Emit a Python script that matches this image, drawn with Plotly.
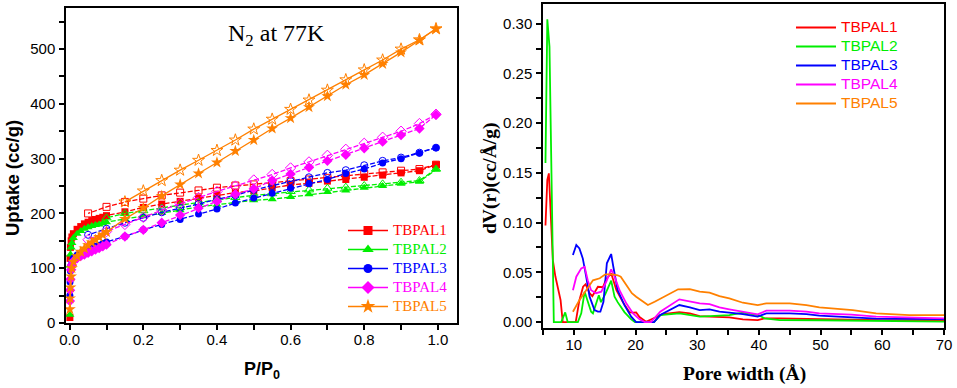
import plotly.graph_objects as go

W, H = 957, 388

# ---------------- Left panel: N2 isotherms at 77 K ----------------
P_ads = [0.0005, 0.001, 0.002, 0.004, 0.006, 0.01, 0.02, 0.03, 0.04, 0.05, 0.06, 0.07,
         0.08, 0.09, 0.10, 0.15, 0.20, 0.25, 0.30, 0.35, 0.40, 0.45, 0.50, 0.55, 0.60,
         0.65, 0.70, 0.75, 0.80, 0.85, 0.90, 0.95, 0.995]
P_des = [0.995, 0.95, 0.90, 0.85, 0.80, 0.75, 0.70, 0.65, 0.60, 0.55, 0.50, 0.45, 0.40,
         0.35, 0.30, 0.25, 0.20, 0.15, 0.10, 0.05]

names = ["TBPAL1", "TBPAL2", "TBPAL3", "TBPAL4", "TBPAL5"]
colors = ["#FF0000", "#00EE00", "#0000FF", "#FF00FF", "#FF8000"]

ads_1 = [10, 118, 138, 150, 157, 163, 171, 176, 181, 184, 187, 189, 191, 193, 196, 203, 211,
         217, 222, 228, 233, 238, 241, 247, 252, 255, 259, 262, 266, 270, 274, 278, 289]
des_1 = [289, 281, 278, 275, 272, 269, 265, 262, 259, 256, 253, 251, 247, 242, 238, 233,
         227, 221, 212, 200]
ads_2 = [15, 105, 125, 138, 146, 155, 163, 168, 172, 175, 177, 179, 180, 182, 184, 190, 195,
         201, 206, 212, 216, 221, 224, 226, 230, 235, 239, 242, 247, 250, 254, 258, 280]
des_2 = [281, 260, 257, 254, 251, 248, 246, 243, 240, 236, 233, 229, 225, 220, 215, 210,
         205, 200, 192, None]
ads_3 = [50, 75, 95, 105, 112, 118, 124, 128, 131, 134, 137, 140, 142, 145, 148, 158, 170,
         180, 189, 199, 208, 219, 228, 237, 246, 254, 262, 273, 281, 292, 300, 310, 320]
des_3 = [320, 311, 302, 296, 288, 279, 274, 266, 259, 250, 243, 233, 226, 217, 210, 202,
         192, 183, 172, 161]
ads_4 = [40, 60, 80, 97, 106, 113, 118, 122, 125, 128, 131, 134, 137, 140, 143, 158, 170,
         183, 197, 210, 222, 235, 245, 260, 272, 284, 296, 307, 319, 331, 343, 355, 380]
des_4 = [381, 364, 350, 339, 328, 317, 306, 294, 283, 271, 261, 250, 240, 229, 218, 206,
         193, 180, 167, 152]
ads_5 = [25, 45, 65, 85, 100, 112, 122, 130, 136, 142, 147, 152, 157, 161, 166, 190, 210,
         232, 253, 273, 293, 314, 334, 355, 374, 394, 414, 435, 453, 473, 494, 516, 537]
des_5 = [537, 517, 500, 480, 462, 444, 425, 407, 390, 372, 354, 334, 315, 297, 279, 260,
         241, 221, None, None]

ads = [ads_1, ads_2, ads_3, ads_4, ads_5]
des = [des_1, des_2, des_3, des_4, des_5]
symbols = ["square", "triangle-up", "circle", "diamond", "star"]
msizes = [7, 8, 7, 8, 9]
dashes = ["5px,2px", "5px,2px", "5px,2px", "5px,2px", "solid"]

# tick positions (major labelled, minor unlabelled)
L_xticks = [0, 0.1, 0.2, 0.3, 0.4, 0.5, 0.6, 0.7, 0.8, 0.9, 1.0]
L_xlabels = ["0.0", "", "0.2", "", "0.4", "", "0.6", "", "0.8", "", "1.0"]
L_yticks = [0, 50, 100, 150, 200, 250, 300, 350, 400, 450, 500, 550]
L_ylabels = ["0", "", "100", "", "200", "", "300", "", "400", "", "500", ""]
R_xticks = [5, 10, 15, 20, 25, 30, 35, 40, 45, 50, 55, 60, 65, 70]
R_xlabels = ["", "10", "", "20", "", "30", "", "40", "", "50", "", "60", "", "70"]
R_yticks = [0, 0.025, 0.05, 0.075, 0.10, 0.125, 0.15, 0.175, 0.20, 0.225, 0.25, 0.275, 0.30]
R_ylabels = ["0.00", "", "0.05", "", "0.10", "", "0.15", "", "0.20", "", "0.25", "", "0.30"]

# ---------------- Right panel: pore size distribution ----------------
w_1 = [5.4, 5.7, 5.95, 6.6, 7.0, 7.6, 7.85, 8.2, 10.3, 10.9, 11.5, 11.9, 12.55, 13.0, 13.9,
       14.7, 15.25, 16.05, 16.9, 17.95, 19.0, 19.6, 20.1, 20.65, 21.7, 24.4, 27.1, 28.8,
       30.4, 32.0, 35.2, 37.4, 39.8, 40.9, 43.4, 50.0, 60.0, 70.0]
v_1 = [0.097, 0.143, 0.1495, 0.062, 0.046, 0.029, 0.022, 0.0, 0.0, 0.022, 0.0355, 0.038,
       0.029, 0.026, 0.0355, 0.035, 0.043, 0.049, 0.032, 0.020, 0.010, 0.0094, 0.0097,
       0.005, 0.0003, 0.008, 0.0100, 0.0087, 0.006, 0.0054, 0.0047, 0.0027, 0.002, 0.0037,
       0.0037, 0.0028, 0.002, 0.002]
w_2 = [5.4, 5.7, 6.05, 6.75, 7.95, 8.6, 9.0, 10.65, 11.2, 11.75, 12.8, 13.1, 14.05, 14.4,
       15.1, 16.05, 16.6, 17.1, 18.2, 19.3, 19.9, 23.0, 24.0, 27.1, 30.4, 35.2, 37.4, 39.9,
       40.9, 43.4, 50.0, 60.0, 70.0]
v_2 = [0.160, 0.3045, 0.277, 0.0, 0.0, 0.0097, 0.0, 0.0, 0.0087, 0.0305, 0.0104, 0.0087,
       0.027, 0.020, 0.028, 0.0416, 0.0255, 0.020, 0.010, 0.0027, 0.0, 0.0, 0.007, 0.0087,
       0.0054, 0.007, 0.0094, 0.007, 0.0037, 0.002, 0.0018, 0.001, 0.0005]
w_3 = [9.85, 10.4, 10.9, 11.45, 12.0, 12.55, 13.35, 13.9, 14.3, 14.8, 15.35, 16.05, 16.4,
       17.1, 18.2, 19.3, 20.1, 23.0, 24.0, 27.1, 28.8, 30.4, 32.0, 33.6, 35.2, 37.4, 39.8,
       41.2, 45.0, 47.7, 49.8, 59.0, 70.0]
v_3 = [0.0674, 0.0775, 0.074, 0.064, 0.0456, 0.0255, 0.012, 0.0104, 0.0104, 0.0204, 0.059,
       0.0684, 0.0556, 0.032, 0.017, 0.0054, 0.0, 0.0, 0.007, 0.0171, 0.0148, 0.012, 0.0128,
       0.0104, 0.0094, 0.008, 0.0054, 0.0087, 0.0087, 0.008, 0.0064, 0.0035, 0.003]
w_4 = [9.85, 10.4, 11.2, 11.75, 12.25, 12.8, 13.6, 14.45, 15.25, 16.05, 16.6, 17.4, 18.5,
       19.6, 20.65, 21.5, 22.5, 24.0, 27.1, 28.8, 30.4, 32.0, 33.6, 35.2, 37.4, 39.8, 41.2,
       45.0, 47.7, 49.8, 55.0, 59.0, 70.0]
v_4 = [0.032, 0.0456, 0.054, 0.0556, 0.042, 0.032, 0.029, 0.0305, 0.0405, 0.053, 0.0456,
       0.032, 0.0188, 0.0087, 0.0027, 0.0, 0.0, 0.0104, 0.0228, 0.0204, 0.0188, 0.0181,
       0.0148, 0.0128, 0.0104, 0.0077, 0.0114, 0.0114, 0.0104, 0.0087, 0.0075, 0.0054,
       0.0037]
w_5 = [9.85, 10.9, 12.0, 13.1, 14.2, 15.1, 16.3, 17.1, 17.6, 18.8, 19.4, 20.1, 21.2, 22.0,
       23.1, 25.0, 26.9, 28.8, 30.4, 32.0, 33.6, 35.2, 37.4, 39.8, 41.2, 45.0, 47.7, 49.8,
       55.2, 59.0, 64.4, 70.0]
v_5 = [0.0104, 0.022, 0.032, 0.042, 0.044, 0.048, 0.048, 0.047, 0.0456, 0.034, 0.029, 0.0255,
       0.0204, 0.0171, 0.0204, 0.027, 0.0329, 0.033, 0.0305, 0.0295, 0.026, 0.0238, 0.0194,
       0.0171, 0.0188, 0.0188, 0.0171, 0.0148, 0.012, 0.0087, 0.007, 0.007]

psd_w = [w_1, w_2, w_3, w_4, w_5]
psd_v = [v_1, v_2, v_3, v_4, v_5]

# ---------------- geometry (pixel boxes of the two plot frames) ----------------
L_box = (66, 457, 8, 323)     # x0, x1, y0(top), y1(bottom)
R_box = (543, 944, 4, 328)

def xd(b):
    return [b[0] / W, b[1] / W]

def yd(b):
    return [1 - b[3] / H, 1 - b[2] / H]

SANS = "Liberation Sans, Arial, sans-serif"
SERIF = "Liberation Serif, Times New Roman, serif"

def legend_label(name, color, size, family):
    return (f"<span style='font-size:{size}px;color:{color};font-family:{family}'>"
            f"{name}</span>")

fig = go.Figure()

for i in range(5):
    fig.add_trace(go.Scatter(
        x=P_ads, y=ads[i], mode="lines+markers", showlegend=False,
        line=dict(color=colors[i], width=1.3, dash=dashes[i]),
        marker=dict(symbol=symbols[i], size=msizes[i], color=colors[i],
                    line=dict(width=0)),
        xaxis="x", yaxis="y"))
    fig.add_trace(go.Scatter(
        x=P_des, y=des[i], mode="lines+markers", showlegend=False,
        line=dict(color=colors[i], width=1.3, dash=dashes[i]),
        marker=dict(symbol=symbols[i] + "-open", size=msizes[i], color=colors[i],
                    line=dict(width=1)),
        xaxis="x", yaxis="y"))
    # legend entry (left panel)
    fig.add_trace(go.Scatter(
        x=[None], y=[None], mode="lines+markers",
        name=legend_label(names[i], colors[i], 15, "Liberation Serif"), legend="legend",
        line=dict(color=colors[i], width=1.5),
        marker=dict(symbol=symbols[i], size=msizes[i] + 2, color=colors[i]),
        xaxis="x", yaxis="y"))

for i in range(5):
    fig.add_trace(go.Scatter(
        x=psd_w[i], y=psd_v[i], mode="lines",
        name=legend_label(names[i], colors[i], 15.5, "Liberation Sans"), legend="legend2",
        line=dict(color=colors[i], width=1.8),
        xaxis="x2", yaxis="y2"))

axis_common = dict(showline=True, linecolor="black", linewidth=1.5, mirror=True,
                   ticks="outside", ticklen=5, tickwidth=1.5, tickcolor="black",
                   showgrid=False, zeroline=False, automargin=False,
                   tickfont=dict(family=SANS, size=15, color="black"))

fig.update_layout(
    template="none",
    width=W, height=H,
    margin=dict(l=0, r=0, t=0, b=0, pad=0),
    paper_bgcolor="white", plot_bgcolor="white",
    xaxis=dict(domain=xd(L_box), range=[-0.01, 1.052], tickmode="array",
               tickvals=L_xticks, ticktext=L_xlabels, anchor="y", ticklabelstandoff=-3,
               **axis_common),
    yaxis=dict(domain=yd(L_box), range=[0, 575], tickmode="array",
               tickvals=L_yticks, ticktext=L_ylabels, anchor="x", ticklabelstandoff=1,
               **axis_common),
    xaxis2=dict(domain=xd(R_box), range=[5, 70], tickmode="array",
                tickvals=R_xticks, ticktext=R_xlabels, anchor="y2", ticklabelstandoff=-3,
                **axis_common),
    yaxis2=dict(domain=yd(R_box), range=[-0.006, 0.3198], tickmode="array",
                tickvals=R_yticks, ticktext=R_ylabels, anchor="x2", ticklabelstandoff=1,
                **axis_common),
    legend=dict(x=343 / W, y=1 - 216 / H, xanchor="left", yanchor="top",
                bgcolor="rgba(0,0,0,0)", borderwidth=0, itemwidth=40,
                font=dict(family=SERIF, size=11), tracegroupgap=0),
    legend2=dict(x=791 / W, y=1 - 13 / H, xanchor="left", yanchor="top",
                 bgcolor="rgba(0,0,0,0)", borderwidth=0, itemwidth=40,
                 font=dict(family=SANS, size=11), tracegroupgap=0),
    annotations=[
        dict(text="N<sub>2</sub> at 77K", x=276 / W, y=1 - 35 / H),
        dict(text="<b>Uptake (cc/g)</b>", x=13 / W, y=1 - 178 / H, textangle=-90),
        dict(text="<b>P/P<sub>0</sub></b>", x=262 / W, y=1 - 370 / H),
        dict(text="<b>dV(r)(cc/Å/g)</b>", x=490 / W, y=1 - 178 / H, textangle=-90),
        dict(text="<b>Pore width (Å)</b>", x=744 / W, y=1 - 374 / H),
    ],
)

ann_fonts = [dict(family=SERIF, size=24), dict(family=SANS, size=18.5),
             dict(family=SANS, size=18), dict(family=SERIF, size=19.5),
             dict(family=SERIF, size=19.5)]
for a, f in zip(fig.layout.annotations, ann_fonts):
    a.update(xref="paper", yref="paper", xanchor="center", yanchor="middle",
             showarrow=False, font=dict(color="black", **f))

fig.write_html("out.html", config={"displayModeBar": False},
               post_script="document.body.style.margin='0px';")
